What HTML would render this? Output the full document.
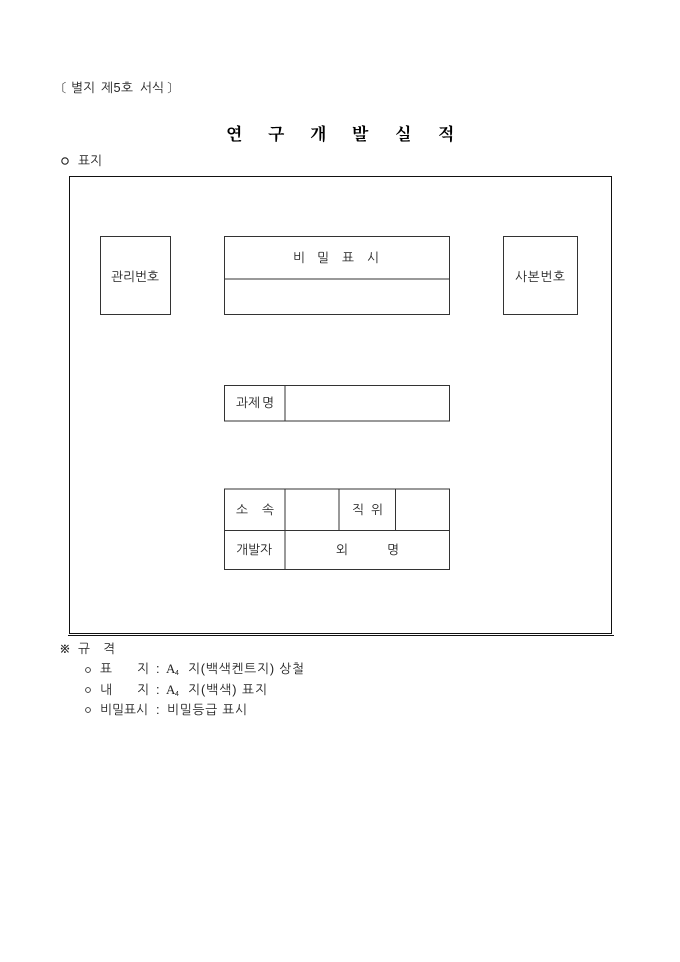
<!DOCTYPE html>
<html lang="ko">
<head>
<meta charset="utf-8">
<style>
html,body{margin:0;padding:0;background:#fff;}
svg{display:block;}
text{font-family:"Liberation Sans","NanumGothic","Noto Sans CJK KR",sans-serif;font-size:12.75px;fill:#222;}
.t{font-family:"Liberation Serif","Noto Serif CJK SC","NanumGothic",serif;font-size:17px;font-weight:bold;fill:#000;}
</style>
</head>
<body>
<svg width="680" height="962" viewBox="0 0 680 962" xmlns="http://www.w3.org/2000/svg">
<rect x="0" y="0" width="680" height="962" fill="#fff"/>
<g fill="none" stroke="#333" stroke-width="1">
<rect x="69.5" y="176.5" width="542" height="457" stroke="#111"/>
<rect x="100.5" y="236.5" width="70" height="78"/>
<rect x="224.5" y="236.5" width="225" height="78"/>
<line x1="224.5" y1="279" x2="449.5" y2="279"/>
<rect x="503.5" y="236.5" width="74" height="78"/>
<rect x="224.5" y="385.5" width="225" height="35.5"/>
<line x1="285" y1="385.5" x2="285" y2="421"/>
<rect x="224.5" y="489" width="225" height="80.5"/>
<line x1="224.5" y1="530.5" x2="449.5" y2="530.5"/>
<line x1="285" y1="489" x2="285" y2="569.5"/>
<line x1="339" y1="489" x2="339" y2="530.5"/>
<line x1="395.5" y1="489" x2="395.5" y2="530.5"/>
<line x1="68" y1="635.5" x2="614" y2="635.5" stroke="#111"/>
</g>
<text x="62" y="92">〔</text>
<text x="71" y="92">별지</text>
<text x="101" y="92" textLength="32">제5호</text>
<text x="140" y="92">서식</text>
<text x="167" y="92">〕</text>
<text class="t" x="226" y="140">연</text>
<text class="t" x="268" y="140">구</text>
<text class="t" x="310" y="140">개</text>
<text class="t" x="352" y="140">발</text>
<text class="t" x="395" y="140">실</text>
<text class="t" x="438" y="140">적</text>
<circle cx="65" cy="161" r="3.2" fill="none" stroke="#222" stroke-width="1.1"/>
<text x="78" y="165">표지</text>
<text x="111" y="281">관리번호</text>
<text x="515" y="281" textLength="50">사본번호</text>
<text x="293" y="262">비</text>
<text x="317" y="262">밀</text>
<text x="342" y="262">표</text>
<text x="367" y="262">시</text>
<text x="236" y="407">과제</text>
<text x="262" y="407">명</text>
<text x="236" y="514">소</text>
<text x="262" y="514">속</text>
<text x="352" y="514">직</text>
<text x="371" y="514">위</text>
<text x="236" y="554">개발자</text>
<text x="336" y="554">외</text>
<text x="387" y="554">명</text>
<text x="59" y="653" font-weight="bold">※</text>
<text x="78" y="653">규</text>
<text x="103" y="653">격</text>
<circle cx="88" cy="670" r="2.4" fill="none" stroke="#333" stroke-width="0.9"/>
<text x="100" y="673">표</text>
<text x="137" y="673">지</text>
<text x="156" y="673">:</text>
<text x="166" y="673" style="font-family:'Liberation Serif';font-size:13px">A</text>
<text x="175" y="675" style="font-size:7px">4</text>
<text x="188" y="673" textLength="116">지(백색켄트지) 상철</text>
<circle cx="88" cy="690" r="2.4" fill="none" stroke="#333" stroke-width="0.9"/>
<text x="100" y="694">내</text>
<text x="137" y="694">지</text>
<text x="156" y="694">:</text>
<text x="166" y="694" style="font-family:'Liberation Serif';font-size:13px">A</text>
<text x="175" y="696" style="font-size:7px">4</text>
<text x="188" y="694" textLength="79">지(백색) 표지</text>
<circle cx="88" cy="710" r="2.4" fill="none" stroke="#333" stroke-width="0.9"/>
<text x="100" y="714">비밀표시</text>
<text x="156" y="714">:</text>
<text x="167" y="714" textLength="80">비밀등급 표시</text>
</svg>
</body>
</html>
